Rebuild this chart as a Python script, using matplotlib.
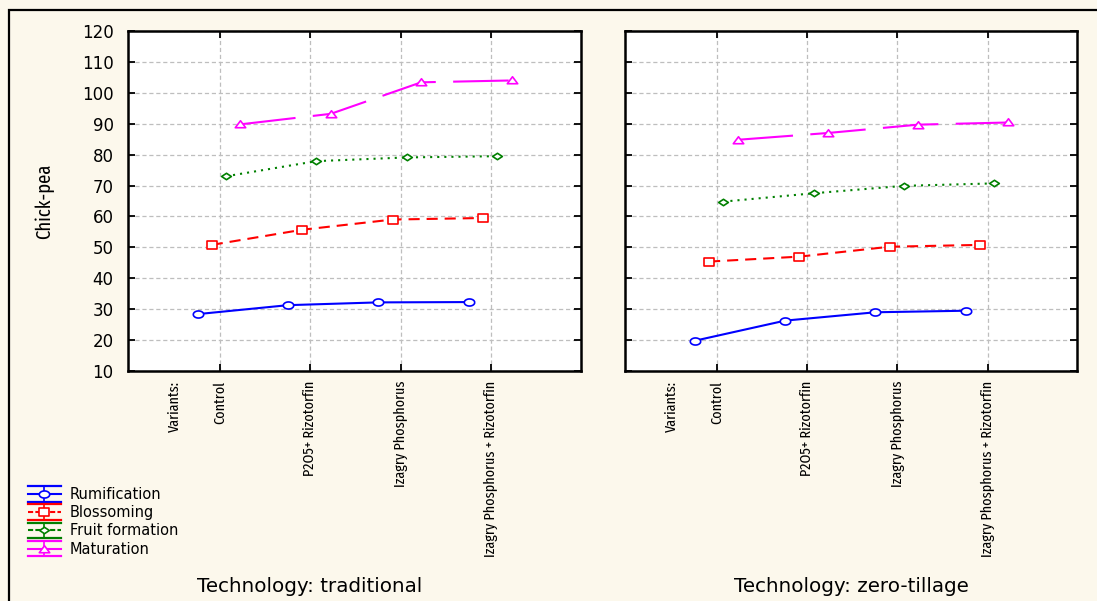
import numpy as np
import matplotlib
matplotlib.use("Agg")
import matplotlib.pyplot as plt
from matplotlib.path import Path
from matplotlib.lines import Line2D
from matplotlib.legend_handler import HandlerBase
from matplotlib.patches import Rectangle
from matplotlib import font_manager as fm

# ---------------- data ----------------
categories = ['Control', 'P2O5+ Rizotorfin', 'Izagry Phosphorus',
              'Izagry Phosphorus + Rizotorfin']
factor_label = 'Variants:'
series_names = ['Rumification', 'Blossoming', 'Fruit formation', 'Maturation']
panel_titles = ['Technology: traditional', 'Technology: zero-tillage']

trad_rumification = [28.4, 31.3, 32.2, 32.3]
trad_blossoming = [50.8, 55.7, 59.0, 59.5]
trad_fruit = [73.0, 77.9, 79.1, 79.5]
trad_maturation = [89.8, 93.2, 103.4, 104.0]

zero_rumification = [19.8, 26.3, 29.0, 29.5]
zero_blossoming = [45.4, 47.0, 50.2, 50.8]
zero_fruit = [64.8, 67.5, 69.9, 70.7]
zero_maturation = [84.8, 87.0, 89.7, 90.4]

y_ticks = [10, 20, 30, 40, 50, 60, 70, 80, 90, 100, 110, 120]
y_label = 'Chick-pea'

# ---------------- fonts ----------------
def pick_narrow():
    rank_stretch = {'ultra-condensed': 0, 'extra-condensed': 0, 'condensed': 1,
                    'semi-condensed': 2}
    cands = []
    for f in fm.fontManager.ttflist:
        nm = f.name
        st = f.stretch if isinstance(f.stretch, str) else 'normal'
        narrowish = ('Narrow' in nm or 'Condensed' in nm or st in rank_stretch)
        if not narrowish:
            continue
        if f.style != 'normal':
            continue
        if f.weight not in (400, 'normal', 'regular', 'book'):
            continue
        if 'Mono' in nm or 'Serif' in nm:
            continue
        r = rank_stretch.get(st, 3)
        if 'ExtraCondensed' in nm or 'Extra Condensed' in nm:
            r = 0
        if 'Liberation Sans Narrow' in nm:
            r = -1
        cands.append((r, nm, f.fname))
    if cands:
        cands.sort()
        return fm.FontProperties(fname=cands[0][2])
    return fm.FontProperties(family='Liberation Sans')

narrow_fp = pick_narrow()

# ---------------- styles ----------------
plt.rcParams['lines.scale_dashes'] = False
BG = '#FCF8EC'
W, H = 1097, 601

t = np.linspace(0, 2 * np.pi, 41)
m_ellipse = Path(np.column_stack([np.cos(t), 0.68 * np.sin(t)]))
m_rect = Path([(-1, -0.72), (1, -0.72), (1, 0.72), (-1, 0.72), (-1, -0.72)], closed=True)
m_diam = Path([(-1, 0), (0, 0.66), (1, 0), (0, -0.66), (-1, 0)], closed=True)
m_tri = Path([(-1, -0.62), (1, -0.62), (0, 0.72), (-1, -0.62)], closed=True)

styles = [
    dict(color='#0000FF', ls='-', marker=m_ellipse, ms=7.5),
    dict(color='#FF0000', ls=(0, (8, 5)), marker=m_rect, ms=7.5),
    dict(color='#008000', ls=(0, (1.5, 3.6)), marker=m_diam, ms=7.0),
    dict(color='#FF00FF', ls=(0, (40, 12.5)), marker=m_tri, ms=7.5),
]
offsets = [-0.245, -0.088, 0.07, 0.228]

fig = plt.figure(figsize=(W / 100, H / 100), dpi=100, facecolor=BG)

# outer frame
fig.patches.append(Rectangle((9 / W, -0.1), 1.2, 1 - 10 / H + 0.1, transform=fig.transFigure,
                             fill=False, edgecolor='black', linewidth=1.6, zorder=0))

ax1 = fig.add_axes([127.5 / W, 1 - 371 / H, 453 / W, 340 / H])
ax2 = fig.add_axes([625 / W, 1 - 371 / H, 452 / W, 340 / H])

panel_data = [
    [trad_rumification, trad_blossoming, trad_fruit, trad_maturation],
    [zero_rumification, zero_blossoming, zero_fruit, zero_maturation],
]

x = np.arange(1, len(categories) + 1)
for ax, data in zip([ax1, ax2], panel_data):
    ax.set_facecolor('white')
    for vals, st, off in zip(data, styles, offsets):
        ax.plot(x + off, vals, color=st['color'], linestyle=st['ls'], linewidth=1.5,
                marker=st['marker'], markersize=st['ms'], markerfacecolor='white',
                markeredgecolor=st['color'], markeredgewidth=1.2, zorder=3)
    ax.set_xlim(-0.02, 4.99)
    ax.set_ylim(10, 120)
    ax.set_yticks(y_ticks)
    ax.set_xticks(x)
    ax.set_xticklabels(categories, rotation=90, fontproperties=narrow_fp)
    ax.set_xticks([0.5], minor=True)
    ax.set_xticklabels([factor_label], minor=True, rotation=90, fontproperties=narrow_fp)
    ax.tick_params(axis='x', which='minor', length=0, pad=7)
    ax.tick_params(which='major', direction='in', length=5, width=1.3,
                   top=True, right=True, bottom=True, left=True)
    ax.tick_params(axis='x', which='major', pad=7)
    ax.grid(True, which='major', color='#BEBEBE', linestyle=(0, (3, 2)), linewidth=0.9)
    ax.set_axisbelow(True)
    for sp in ax.spines.values():
        sp.set_linewidth(1.8)
        sp.set_color('black')
        sp.set_zorder(5)

ax1.tick_params(axis='y', labelsize=12, pad=10)
for lbl in ax1.get_yticklabels():
    lbl.set_family('DejaVu Sans')
ax2.tick_params(axis='y', labelleft=False)

# size the rotated category labels so the longest one is ~176 px long
renderer = fig.canvas.get_renderer()
test_lbl = ax1.get_xticklabels()[-1]
test_lbl.set_fontsize(12)
h12 = test_lbl.get_window_extent(renderer).height
xl_size = min(12.5, 12 * 176.0 / h12)
for ax in (ax1, ax2):
    for lbl in ax.get_xticklabels() + ax.get_xticklabels(minor=True):
        lbl.set_fontsize(xl_size)

ylab = fig.text(44.6 / W, 1 - 201 / H, y_label, rotation=90, ha='center', va='center',
                fontproperties=narrow_fp)
ylab.set_fontsize(12)
hy = ylab.get_window_extent(renderer).height
ylab.set_fontsize(min(16, 12 * 76.0 / hy))

fig.text(310 / W, 1 - 592.3 / H, panel_titles[0], ha='center', va='baseline',
         family='DejaVu Sans', fontsize=14.3)
fig.text(851 / W, 1 - 592.3 / H, panel_titles[1], ha='center', va='baseline',
         family='DejaVu Sans', fontsize=14.3)


# ---------------- legend ----------------
class StatHandler(HandlerBase):
    def create_artists(self, legend, orig_handle, xdescent, ydescent, width, height,
                       fontsize, trans):
        c = orig_handle.get_color()
        cy = height / 2 - ydescent
        x0, x1 = -xdescent, -xdescent + width
        xm = (x0 + x1) / 2
        dy = 5.6
        arts = []
        for yy in (cy + dy, cy - dy):
            arts.append(Line2D([x0, x1], [yy, yy], color=c, lw=1.6, transform=trans))
        arts.append(Line2D([xm, xm], [cy - dy, cy + dy], color=c, lw=1.2, transform=trans))
        mid = Line2D([x0, x1], [cy, cy], color=c, lw=1.5,
                     linestyle=orig_handle.get_linestyle(), transform=trans)
        arts.append(mid)
        mk = Line2D([xm], [cy], marker=orig_handle.get_marker(),
                    markersize=orig_handle.get_markersize(), markerfacecolor='white',
                    markeredgecolor=c, markeredgewidth=1.2, linestyle='none', transform=trans)
        arts.append(mk)
        return arts


proxies = []
legend_ls = ['-', (0, (3, 1.5)), (0, (1.2, 2.8)), '-']
for st, ls in zip(styles, legend_ls):
    proxies.append(Line2D([], [], color=st['color'], linestyle=ls, marker=st['marker'],
                          markersize=st['ms']))

leg = fig.legend(proxies, series_names, loc='upper left',
                 bbox_to_anchor=(28 / W, 1 - 487 / H), frameon=False,
                 handler_map={Line2D: StatHandler()},
                 prop={'family': 'DejaVu Sans', 'size': 10.5},
                 handlelength=2.25, handleheight=1.0, handletextpad=0.6,
                 labelspacing=0.22, borderpad=0, borderaxespad=0)

fig.savefig('out.png', dpi=100, facecolor=BG)
